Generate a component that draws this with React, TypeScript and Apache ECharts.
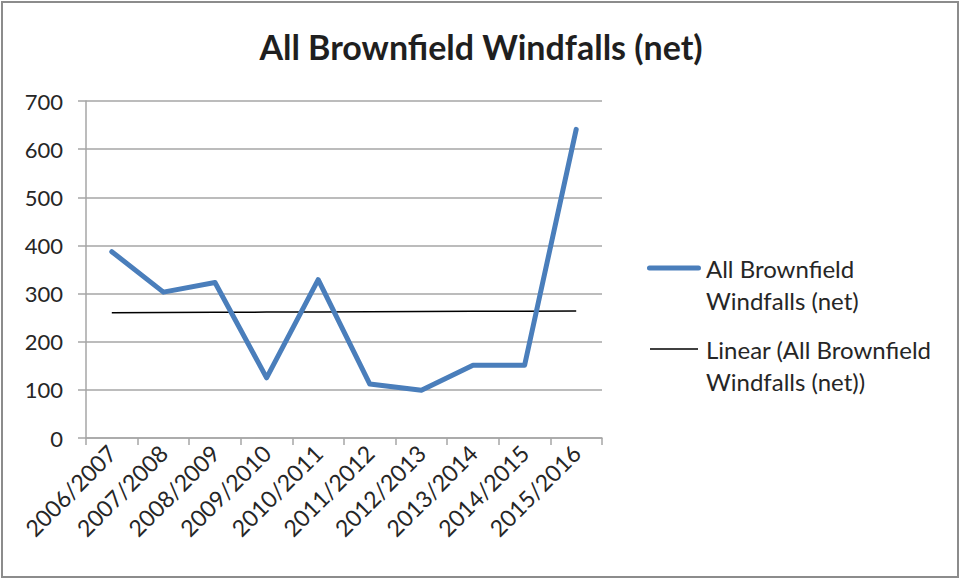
import React, { useEffect, useRef } from "react";
import * as echarts from "echarts";

// Financial years on the category axis
const years = [
  "2006/2007",
  "2007/2008",
  "2008/2009",
  "2009/2010",
  "2010/2011",
  "2011/2012",
  "2012/2013",
  "2013/2014",
  "2014/2015",
  "2015/2016",
];

// Net brownfield windfall completions per year
const windfalls = [387, 303, 323, 125, 329, 112, 99, 151, 151, 641];

const seriesName = "All Brownfield Windfalls (net)";
const trendName = "Linear (All Brownfield Windfalls (net))";

// Least-squares linear trend of the windfall series
function linearTrend(values: number[]): number[] {
  const n = values.length;
  const xs = values.map((_, i) => i + 1);
  const mx = xs.reduce((a, b) => a + b, 0) / n;
  const my = values.reduce((a, b) => a + b, 0) / n;
  let sxy = 0;
  let sxx = 0;
  xs.forEach((x, i) => {
    sxy += (x - mx) * (values[i] - my);
    sxx += (x - mx) * (x - mx);
  });
  const slope = sxy / sxx;
  const icpt = my - slope * mx;
  return xs.map((x) => +(icpt + slope * x).toFixed(2));
}

const FONT = "Lato, 'DejaVu Sans', sans-serif";
const AXIS_GREY = "#a6a6a6";
const TEXT_GREY = "#262626";
const BLUE = "#4a7ebb";

// Legend keys: the leading moveTo points pin the icon box to 54x14, so the
// drawn bar keeps its own thickness instead of being stretched.
const blueKey =
  "path://M0,0 M54,14 M2.5,4.5 L51.5,4.5 A2.5,2.5 0 0 1 51.5,9.5 L2.5,9.5 A2.5,2.5 0 0 1 2.5,4.5 Z";
const blackKey = "path://M0,0 M54,14 M3,6.3 L51,6.3 L51,7.7 L3,7.7 Z";

export default function App() {
  const ref = useRef<HTMLDivElement>(null);

  useEffect(() => {
    document.body.style.margin = "0";
    const chart = echarts.init(ref.current!, null, { renderer: "svg" });
    const trend = linearTrend(windfalls);

    chart.setOption({
      animation: false,
      backgroundColor: "#ffffff",
      title: {
        text: "All Brownfield Windfalls (net)",
        left: "center",
        top: 24,
        textStyle: {
          fontFamily: FONT,
          fontSize: 34,
          fontWeight: "bold",
          color: "#1f1f1f",
        },
      },
      grid: { left: 86, right: 360, top: 101, bottom: 141 },
      legend: {
        orient: "vertical",
        left: 642,
        top: 215,
        itemGap: -15,
        itemWidth: 54,
        itemHeight: 14,
        data: [
          {
            name: seriesName,
            icon: blueKey,
            itemStyle: { color: BLUE, borderWidth: 0 },
          },
          {
            name: trendName,
            icon: blackKey,
            itemStyle: { color: "#000000", borderWidth: 0 },
          },
        ],
        // the empty first line lifts the label so its first line sits on the key
        formatter: (name: string) =>
          name === seriesName
            ? "\nAll Brownfield\nWindfalls (net)"
            : "\nLinear (All Brownfield\nWindfalls (net))",
        textStyle: {
          fontFamily: FONT,
          fontSize: 24,
          color: TEXT_GREY,
          lineHeight: 32,
        },
      },
      xAxis: {
        type: "category",
        data: years,
        boundaryGap: true,
        axisLine: { lineStyle: { color: AXIS_GREY, width: 1.5 } },
        axisTick: {
          show: true,
          interval: 0,
          length: 7,
          lineStyle: { color: AXIS_GREY, width: 1.5 },
        },
        axisLabel: {
          interval: 0,
          rotate: 45,
          margin: 11,
          fontFamily: FONT,
          fontSize: 23,
          color: TEXT_GREY,
        },
      },
      yAxis: {
        type: "value",
        min: 0,
        max: 700,
        interval: 100,
        axisLine: { show: true, lineStyle: { color: AXIS_GREY, width: 1.5 } },
        axisTick: {
          show: true,
          length: 8,
          lineStyle: { color: AXIS_GREY, width: 1.5 },
        },
        splitLine: { lineStyle: { color: AXIS_GREY, width: 1.5 } },
        axisLabel: {
          margin: 23,
          fontFamily: FONT,
          fontSize: 22,
          color: TEXT_GREY,
        },
      },
      series: [
        {
          name: seriesName,
          type: "line",
          data: windfalls,
          symbol: "none",
          color: BLUE,
          lineStyle: { width: 5, color: BLUE, cap: "round", join: "round" },
          z: 3,
        },
        {
          name: trendName,
          type: "line",
          data: trend,
          symbol: "none",
          color: "#000000",
          lineStyle: { width: 1.5, color: "#000000" },
          z: 2,
        },
      ],
      graphic: [
        {
          type: "rect",
          shape: { x: 2, y: 2, width: 956, height: 575 },
          style: { fill: "none", stroke: "#8c8c8c", lineWidth: 2 },
          silent: true,
        },
      ],
    });

    return () => chart.dispose();
  }, []);

  return <div ref={ref} style={{ width: 962, height: 579 }} />;
}
